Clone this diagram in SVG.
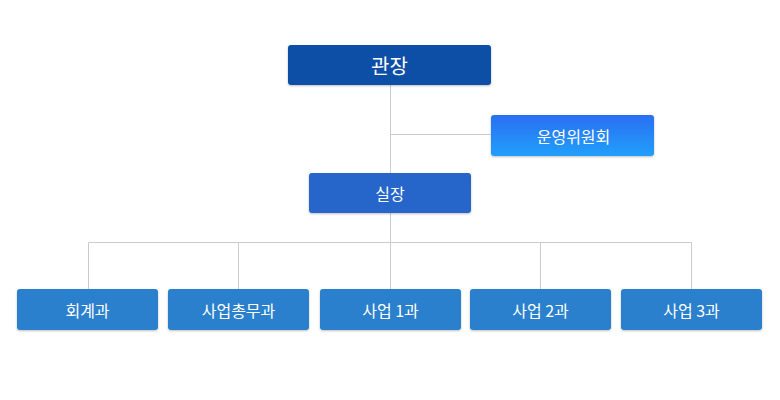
<svg xmlns="http://www.w3.org/2000/svg" width="780" height="400" viewBox="0 0 780 400">
<defs>
<linearGradient id="g1" x1="0" y1="0" x2="0" y2="1">
<stop offset="0" stop-color="#2a6ff2"/>
<stop offset="1" stop-color="#229ffa"/>
</linearGradient>
<filter id="sh" x="-5%" y="-10%" width="110%" height="130%">
<feDropShadow dx="0" dy="1" stdDeviation="1" flood-color="#000" flood-opacity="0.25"/>
</filter>
</defs>
<style>
.box{filter:url(#sh);}
.t{font-family:"Noto Sans CJK KR","Noto Sans",sans-serif;fill:#fff;text-anchor:middle;dominant-baseline:central;font-size:16px;}
.big{font-size:20px;}
.ln{stroke:#cccccc;stroke-width:1;fill:none;}
</style>
<rect width="780" height="400" fill="#fff"/>
<g id="connectors">
<path class="ln" d="M390.5 85 V289"/>
<path class="ln" d="M390.5 134.5 H491"/>
<path class="ln" d="M88.5 289 V242.5 H691.5 V289"/>
<path class="ln" d="M238.5 242.5 V289"/>
<path class="ln" d="M540.5 242.5 V289"/>
</g>
<g id="n-director">
<rect class="box" x="288" y="45" width="203" height="40" rx="3" fill="#0c4fa6"/>
<text class="t big" x="389.5" y="65">관장</text>
</g>
<g id="n-committee">
<rect class="box" x="491" y="115" width="163" height="41" rx="3" fill="url(#g1)"/>
<text class="t" x="573.5" y="135.5">운영위원회</text>
</g>
<g id="n-chief">
<rect class="box" x="309" y="173" width="162" height="40" rx="3" fill="#2866ca"/>
<text class="t" x="390" y="193">실장</text>
</g>
<g id="n-accounting">
<rect class="box" x="17" y="289" width="141" height="41" rx="3" fill="#2980cc"/>
<text class="t" x="87.5" y="309.5">회계과</text>
</g>
<g id="n-general">
<rect class="box" x="168" y="289" width="141" height="41" rx="3" fill="#2980cc"/>
<text class="t" x="238.5" y="309.5">사업총무과</text>
</g>
<g id="n-biz1">
<rect class="box" x="320" y="289" width="141" height="41" rx="3" fill="#2980cc"/>
<text class="t" x="390.5" y="309.5">사업 1과</text>
</g>
<g id="n-biz2">
<rect class="box" x="470" y="289" width="141" height="41" rx="3" fill="#2980cc"/>
<text class="t" x="540.5" y="309.5">사업 2과</text>
</g>
<g id="n-biz3">
<rect class="box" x="621" y="289" width="141" height="41" rx="3" fill="#2980cc"/>
<text class="t" x="691.5" y="309.5">사업 3과</text>
</g>
</svg>
